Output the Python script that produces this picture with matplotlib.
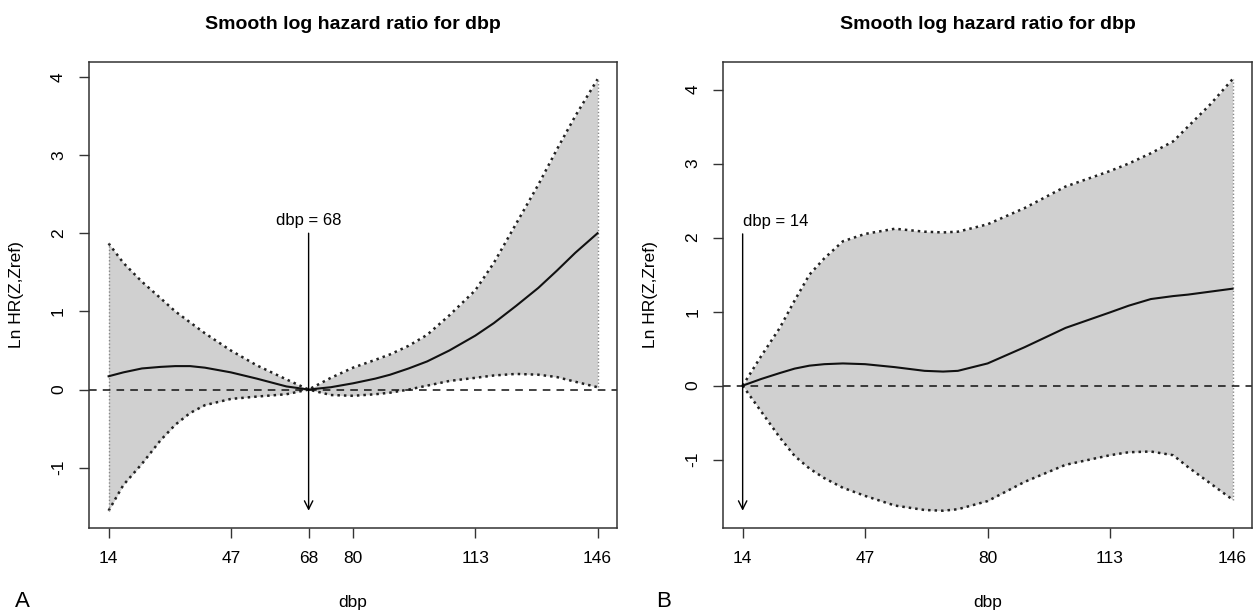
import matplotlib.pyplot as plt
import numpy as np

plt.rcParams['font.family'] = ['Liberation Sans', 'DejaVu Sans']

# panel A: reference dbp = 68
xa = [14, 18, 23, 28, 32, 36, 40, 47, 54, 62, 68, 74, 80, 86, 90, 95, 100, 106, 113, 118, 124, 130, 135, 140, 146]
est_a = [0.17, 0.22, 0.27, 0.29, 0.30, 0.30, 0.28, 0.22, 0.14, 0.04, 0.0, 0.03, 0.08, 0.14, 0.19, 0.27, 0.36, 0.50, 0.69, 0.85, 1.07, 1.30, 1.52, 1.75, 2.0]
up_a = [1.87, 1.62, 1.38, 1.17, 1.00, 0.86, 0.72, 0.50, 0.31, 0.13, 0.0, 0.15, 0.28, 0.38, 0.45, 0.56, 0.70, 0.95, 1.27, 1.62, 2.12, 2.62, 3.07, 3.50, 3.97]
lo_a = [-1.55, -1.22, -0.95, -0.65, -0.45, -0.30, -0.20, -0.12, -0.09, -0.06, 0.0, -0.07, -0.08, -0.06, -0.04, 0.0, 0.05, 0.11, 0.15, 0.18, 0.20, 0.19, 0.16, 0.10, 0.03]

# panel B: reference dbp = 14
xb = [14, 19, 24, 28, 32, 36, 41, 47, 55, 63, 68, 72, 80, 90, 101, 113, 118, 124, 130, 134, 140, 146]
est_b = [0.0, 0.09, 0.17, 0.23, 0.27, 0.29, 0.30, 0.29, 0.25, 0.20, 0.19, 0.20, 0.30, 0.52, 0.78, 0.99, 1.08, 1.17, 1.21, 1.23, 1.27, 1.31]
up_b = [0.0, 0.40, 0.78, 1.15, 1.50, 1.72, 1.95, 2.05, 2.12, 2.08, 2.07, 2.08, 2.18, 2.40, 2.69, 2.90, 3.00, 3.14, 3.30, 3.50, 3.80, 4.14]
lo_b = [0.0, -0.35, -0.70, -0.95, -1.12, -1.25, -1.38, -1.49, -1.62, -1.68, -1.69, -1.67, -1.56, -1.30, -1.07, -0.94, -0.90, -0.89, -0.94, -1.10, -1.32, -1.54]

xticks_a = [14, 47, 68, 80, 113, 146]
xticks_b = [14, 47, 80, 113, 146]
yticks = [-1, 0, 1, 2, 3, 4]


def panel(ax, x, est, up, lo, xticks, ref, label_y, text_ha):
    ax.fill_between(x, lo, up, color='#d0d0d0', lw=0)
    ax.plot(x, up, color='#222222', ls=(0, (1, 1.6)), lw=1.8)
    ax.plot(x, lo, color='#222222', ls=(0, (1, 1.6)), lw=1.8)
    ax.plot([x[0], x[0]], [lo[0], up[0]], color='#888888', ls=(0, (1, 1.5)), lw=1)
    ax.plot([x[-1], x[-1]], [lo[-1], up[-1]], color='#888888', ls=(0, (1, 1.5)), lw=1)
    ax.plot(x, est, color='#111111', lw=1.5)
    ax.axhline(0, color='#111111', ls=(0, (5, 4)), lw=1.1)
    lo_min = min(lo)
    ax.annotate('', xy=(ref, lo_min), xytext=(ref, label_y),
                arrowprops=dict(arrowstyle='->', color='black', lw=1,
                                mutation_scale=15, shrinkA=0, shrinkB=0))
    ax.text(ref, label_y + 0.07, 'dbp = %d' % ref, ha=text_ha, va='bottom', fontsize=12)

    span = max(up) - min(lo)
    ax.set_ylim(min(lo) - 0.04 * span, max(up) + 0.04 * span)
    ax.set_xlim(14 - 0.04 * 132, 146 + 0.04 * 132)
    ax.set_xticks(xticks)
    ax.set_xticklabels([str(t) for t in xticks], fontsize=12.5)
    ax.set_yticks(yticks)
    ax.set_yticklabels([str(t) for t in yticks], fontsize=12.5, rotation=90, va='center')
    ax.tick_params(direction='out', length=7.5, width=1, pad=9, color='#333333')
    for s in ax.spines.values():
        s.set_linewidth(1.1)
        s.set_color('#333333')
    ax.set_title('Smooth log hazard ratio for dbp', fontsize=14, fontweight='bold', pad=24)
    ax.set_xlabel('dbp', fontsize=12.5, va='center')
    ax.xaxis.set_label_coords(0.5, -0.159)
    ax.set_ylabel('Ln HR(Z,Zref)', fontsize=12.5, va='center')
    ax.yaxis.set_label_coords(-0.138, 0.5)


fig = plt.figure(figsize=(12.54, 6.13), dpi=100)
ax1 = fig.add_axes([0.0710, 0.1387, 0.4211, 0.7602])
ax2 = fig.add_axes([0.5766, 0.1387, 0.4219, 0.7602])

panel(ax1, xa, est_a, up_a, lo_a, xticks_a, 68, 2.0, 'center')
panel(ax2, xb, est_b, up_b, lo_b, xticks_b, 14, 2.05, 'left')

fig.text(0.0175, 0.018, 'A', fontsize=16, ha='center', va='center')
fig.text(0.5295, 0.018, 'B', fontsize=16, ha='center', va='center')

fig.savefig('out.png', dpi=100)
